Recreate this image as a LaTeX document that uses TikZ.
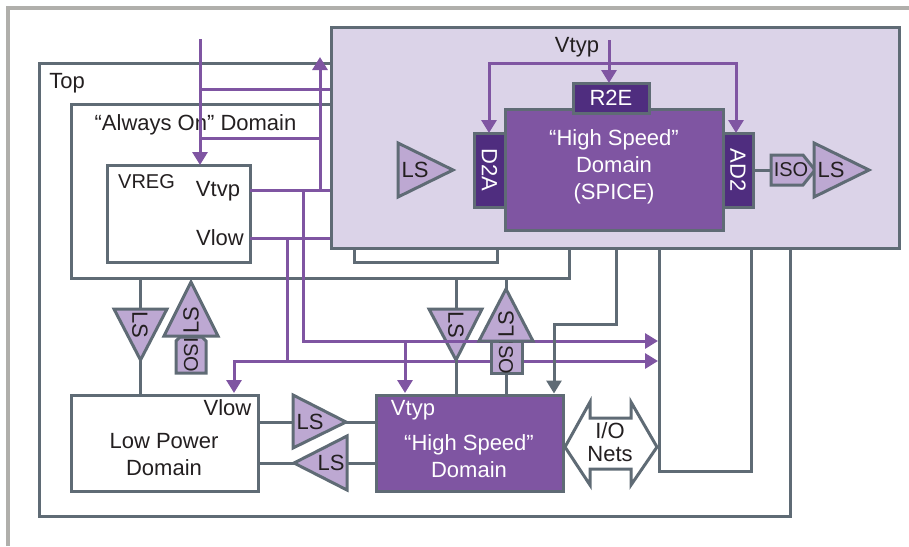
\documentclass[tikz,border=0pt]{standalone}
\usepackage{fontspec}
\setmainfont{Liberation Sans}
\usetikzlibrary{arrows.meta}
\definecolor{edge}{HTML}{5F6B75}
\definecolor{wire}{HTML}{7F55A2}
\definecolor{pale}{HTML}{DBD3E8}
\definecolor{lilac}{HTML}{BDA8D2}
\definecolor{deep}{HTML}{4F2D7F}
\definecolor{frame}{HTML}{B0AFAB}
\definecolor{ink}{HTML}{231F20}
\tikzset{
  lbl/.style={font=\fontsize{22}{27}\selectfont, text=ink, inner sep=0pt, align=center},
  wlbl/.style={lbl, text=white},
  isolbl/.style={lbl, font=\fontsize{20}{24}\selectfont},
  box/.style={draw=edge, line width=3pt, inner sep=0pt, outer sep=0pt, anchor=north west},
  gw/.style={draw=edge, line width=3pt},
  pw/.style={draw=wire, line width=3pt},
  pa/.style={pw, -{Triangle[width=15pt,length=13pt]}},
  ga/.style={gw, -{Triangle[width=15pt,length=13pt]}},
  buf/.style={draw=edge, fill=lilac, line width=3pt, line join=miter},
}
\newcommand{\bx}[7]{\pgfmathsetmacro{\bw}{#4-#2}\pgfmathsetmacro{\bh}{#5-#3}%
  \node[box,#6,minimum width=\bw pt,minimum height=\bh pt] (#1) at (#2,#3) {#7};}
\begin{document}
\begin{tikzpicture}[x=1pt,y=-1pt]
\useasboundingbox (0,0) rectangle (909,546);
% page frame
\coordinate (fa) at (8,546); \coordinate (fb) at (8,8); \coordinate (fc) at (909,8);
\draw[frame,line width=4pt] (fa) -- (fb) -- (fc);
% enclosing boxes
\bx{top}{39}{63}{790}{516}{}{}
\bx{aon}{71}{104}{569}{278}{}{}
\bx{spur}{354}{230}{497}{262}{}{}
\bx{vreg}{107}{165}{250}{262}{fill=white}{}
\node[lbl] (ttop) at (67,83) {Top};
\node[lbl] (taon) at (195.5,125) {“Always On” Domain};
\node[isolbl] (tvreg) at (146.5,182) {VREG};
\node[lbl] (tvtyp) at (218,191) {Vtvp};
\node[lbl] (tvlow) at (220,238) {Vlow};
% level shifter crossed by the wires
\draw[buf] (429,309) -- (482,309) -- (456,360) -- cycle;
% purple network
\coordinate (s) at (200,39);
\coordinate (j1) at (200,89); \coordinate (j2) at (200,138);
\coordinate (bus) at (320,138); \coordinate (busup) at (320,57); \coordinate (busdn) at (320,190);
\coordinate (hsE) at (331,89); \coordinate (vtE) at (331,190); \coordinate (vlE) at (331,238);
\coordinate (a) at (303,190); \coordinate (b) at (303,341); \coordinate (c) at (658,341);
\coordinate (d) at (287,238); \coordinate (e) at (287,361); \coordinate (f) at (658,361);
\coordinate (g) at (234,361); \coordinate (h) at (234,393);
\coordinate (i) at (405,341); \coordinate (k) at (405,393);
\draw[pa] (s) -- (vreg.north -| s);
\draw[pw] (j1) -- (hsE);
\draw[pw] (j2) -- (bus);
\draw[pa] (busdn) -- (busup);
\draw[pw] (vreg.east |- vtE) -- (vtE);
\draw[pw] (vreg.east |- vlE) -- (vlE);
\draw[pa] (a) -- (b) -- (c);
\draw[pa] (d) -- (e) -- (f);
\draw[pa] (e) -- (g) -- (h);
\draw[pa] (i) -- (k);
% high-speed SPICE block
\bx{spice}{331}{27}{899}{248}{fill=pale}{}
\bx{main}{505}{109}{723}{230}{fill=wire}{}
\bx{rte}{573}{83}{649}{113}{fill=deep}{}
\bx{dta}{474}{133}{505}{207}{fill=deep}{}
\bx{adt}{723}{133}{753}{207}{fill=deep}{}
\node[wlbl] (trte) at (rte) {R2E};
\node[wlbl,rotate=-90] (tdta) at (dta) {D2A};
\node[wlbl,rotate=-90] (tadt) at (adt) {AD2};
\node[wlbl] (tmain) at (614,166.5) {“High Speed”\\Domain\\(SPICE)};
\node[lbl] (tvt) at (577,47) {Vtyp};
\coordinate (v0) at (609,40); \coordinate (v1) at (609,63);
\coordinate (vl) at (489,63); \coordinate (vr) at (736,63);
\draw[pa] (v0) -- (rte.north -| v0);
\draw[pa] (vl) -- (vr) -- (adt.north -| vr);
\draw[pa] (vr) -- (vl) -- (dta.north -| vl);
% SPICE-side buffers
\draw[buf] (398,143) -- (453,170) -- (398,197) -- cycle;
\node[lbl] (ls1) at (415,170) {LS};
\coordinate (iw) at (771,170);
\draw[gw] (adt.east |- iw) -- (iw);
\draw[buf] (771,155) -- (803,155) -- (815,170) -- (803,185) -- (771,185) -- cycle;
\node[isolbl] (iso1) at (791,170) {ISO};
\draw[buf] (814,143) -- (869,170) -- (814,197) -- cycle;
\node[lbl] (ls2) at (831,170) {LS};
% lower blocks
\bx{low}{71}{395}{258}{491}{fill=white}{}
\bx{hsd}{376}{395}{563}{491}{fill=wire}{}
\node[lbl] (tlow) at (164,455) {Low Power\\Domain};
\node[lbl] (tlv) at (227.5,408) {Vlow};
\node[wlbl] (thv) at (413,410) {Vtyp};
\node[wlbl] (ths) at (469,456) {“High Speed”\\Domain};
% grey wires
\coordinate (g1) at (140,278); \coordinate (g1b) at (140,309); \coordinate (g1c) at (140,360);
\coordinate (g2) at (456,278); \coordinate (g2b) at (456,309); \coordinate (g2c) at (456,360);
\coordinate (g3) at (506,278); \coordinate (g3a) at (506,290); \coordinate (g3b) at (506,373);
\draw[gw] (g1) -- (g1b);
\draw[gw] (g1c) -- (low.north -| g1);
\draw[gw] (g2) -- (g2b);
\draw[gw] (g2c) -- (hsd.north -| g2);
\draw[gw] (g3) -- (g3a);
\draw[gw] (g3b) -- (hsd.north -| g3);
\coordinate (m1) at (616,248); \coordinate (m2) at (616,324); \coordinate (m3) at (554,324); \coordinate (m4) at (554,393.5);
\draw[ga] (m1) -- (m2) -- (m3) -- (m4);
\coordinate (n1) at (659,248); \coordinate (n2) at (659,471); \coordinate (n3) at (751,471); \coordinate (n4) at (751,248);
\draw[gw,line join=miter] (n1) -- (n2) -- (n3) -- (n4);
\coordinate (q1) at (258,422); \coordinate (q2) at (376,422); \coordinate (r1) at (258,463); \coordinate (r2) at (376,463);
\draw[gw] (q1) -- (q2);
\draw[gw] (r1) -- (r2);
% level shifters and isolators
\draw[buf] (114,309) -- (167,309) -- (140.5,360) -- cycle;
\node[lbl,rotate=-90] (ls3) at (140,325) {LS};
\draw[buf] (176,341) -- (180,337) -- (202,337) -- (206,341) -- (206,373) -- (176,373) -- cycle;
\node[isolbl,rotate=-90] (iso2) at (191,355) {ISO};
\draw[buf] (191,282) -- (218,336) -- (164,336) -- cycle;
\node[lbl,rotate=90] (ls4) at (191,320) {LS};
\node[lbl,rotate=-90] (ls5) at (456,325) {LS};
\draw[buf] (491,341) -- (522,341) -- (522,373) -- (491,373) -- cycle;
\node[isolbl,rotate=-90] (iso3) at (506,357) {ISO};
\draw[buf] (506,289) -- (533,341) -- (479,341) -- cycle;
\node[lbl,rotate=90] (ls6) at (506,324) {LS};
\draw[buf] (293,395) -- (346,422) -- (293,448) -- cycle;
\node[lbl] (ls7) at (310,421.5) {LS};
\draw[buf] (294,463) -- (347,436) -- (347,490) -- cycle;
\node[lbl] (ls8) at (331,462.5) {LS};
% I/O nets
\draw[draw=edge,fill=white,line width=3pt] (565,447) -- (590,402) -- (590,418) -- (631,418) -- (631,402) -- (657,447) -- (631,485) -- (631,469) -- (590,469) -- (590,485) -- cycle;
\node[lbl] (tio) at (610,442.5) {I/O\\[-4pt]Nets};
\end{tikzpicture}
\end{document}
